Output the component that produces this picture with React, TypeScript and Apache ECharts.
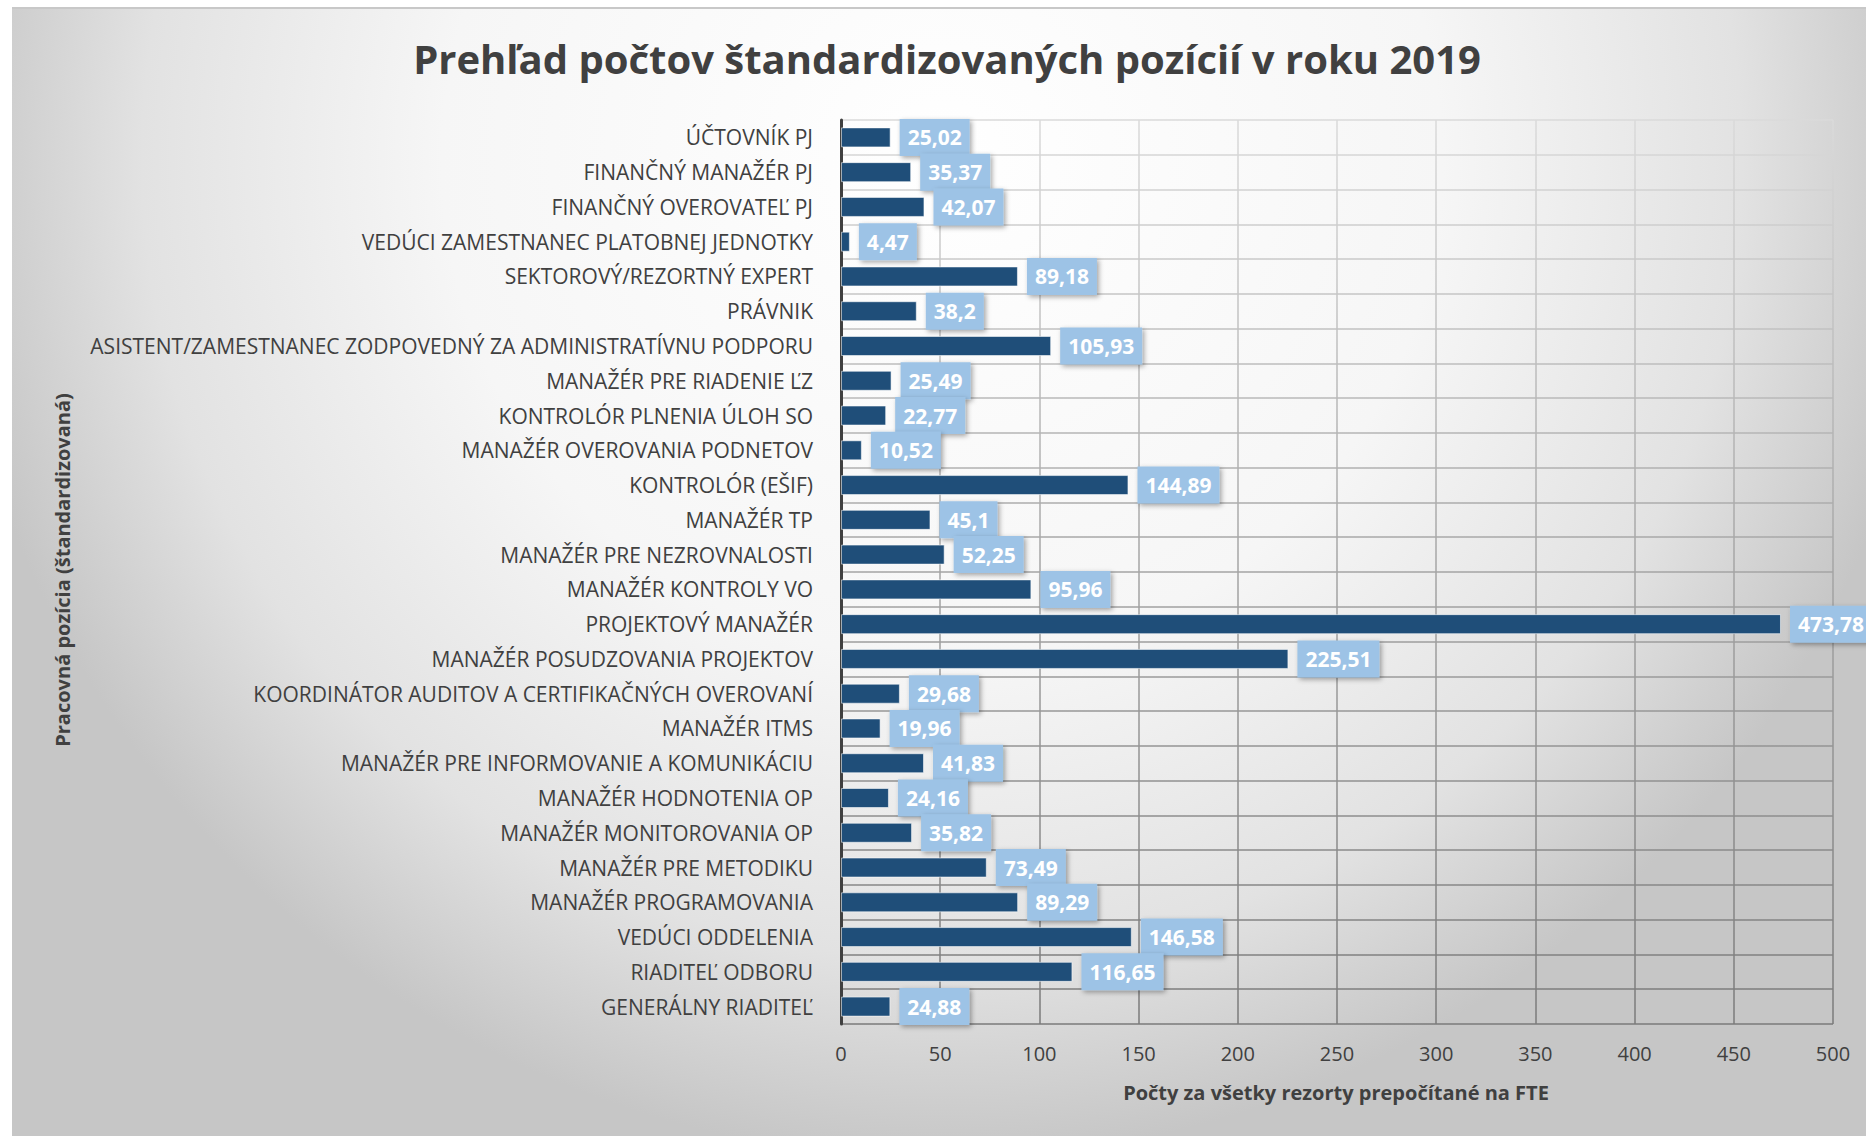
import React, { useEffect, useRef } from "react";
import * as echarts from "echarts";

const categories = [
  "ÚČTOVNÍK PJ",
  "FINANČNÝ MANAŽÉR PJ",
  "FINANČNÝ OVEROVATEĽ PJ",
  "VEDÚCI ZAMESTNANEC PLATOBNEJ JEDNOTKY",
  "SEKTOROVÝ/REZORTNÝ EXPERT",
  "PRÁVNIK",
  "ASISTENT/ZAMESTNANEC ZODPOVEDNÝ ZA ADMINISTRATÍVNU PODPORU",
  "MANAŽÉR PRE RIADENIE ĽZ",
  "KONTROLÓR PLNENIA ÚLOH SO",
  "MANAŽÉR OVEROVANIA PODNETOV",
  "KONTROLÓR (EŠIF)",
  "MANAŽÉR TP",
  "MANAŽÉR PRE NEZROVNALOSTI",
  "MANAŽÉR KONTROLY VO",
  "PROJEKTOVÝ MANAŽÉR",
  "MANAŽÉR POSUDZOVANIA PROJEKTOV",
  "KOORDINÁTOR AUDITOV A CERTIFIKAČNÝCH OVEROVANÍ",
  "MANAŽÉR ITMS",
  "MANAŽÉR PRE INFORMOVANIE A KOMUNIKÁCIU",
  "MANAŽÉR HODNOTENIA OP",
  "MANAŽÉR MONITOROVANIA OP",
  "MANAŽÉR PRE METODIKU",
  "MANAŽÉR PROGRAMOVANIA",
  "VEDÚCI ODDELENIA",
  "RIADITEĽ ODBORU",
  "GENERÁLNY RIADITEĽ",
];

const values = [
  25.02, 35.37, 42.07, 4.47, 89.18, 38.2, 105.93, 25.49, 22.77, 10.52, 144.89,
  45.1, 52.25, 95.96, 473.78, 225.51, 29.68, 19.96, 41.83, 24.16, 35.82, 73.49,
  89.29, 146.58, 116.65, 24.88,
];

const xMin = 0;
const xMax = 500;
const xInterval = 50;

const titleText = "Prehľad počtov štandardizovaných pozícií v roku 2019";
const yAxisName = "Pracovná pozícia (štandardizovaná)";
const xAxisName = "Počty za všetky rezorty prepočítané na FTE";

const FONT = "'Open Sans', 'DejaVu Sans', sans-serif";

export default function App() {
  const ref = useRef<HTMLDivElement>(null);

  useEffect(() => {
    if (!ref.current) return;
    const chart = echarts.init(ref.current, null, { renderer: "svg" });
    const gridGrad = new echarts.graphic.LinearGradient(
      0,
      111,
      0,
      1015,
      [
        { offset: 0, color: "#dadada" },
        { offset: 0.5, color: "#a4a4a4" },
        { offset: 1, color: "#7a7a7a" },
      ],
      true
    );
    chart.setOption({
      animation: false,
      backgroundColor: "transparent",
      grid: { left: 829, right: 33, top: 111, bottom: 112, containLabel: false },
      graphic: [
        {
          type: "text",
          x: 935,
          y: 49,
          style: {
            text: titleText,
            font: `bold 40px ${FONT}`,
            fill: "#404040",
            textAlign: "center",
            textVerticalAlign: "middle",
          },
        },
        {
          type: "text",
          x: 50,
          y: 561,
          rotation: Math.PI / 2,
          style: {
            text: yAxisName,
            font: `bold 20px ${FONT}`,
            fill: "#404040",
            textAlign: "center",
            textVerticalAlign: "middle",
          },
        },
        {
          type: "text",
          x: 1324,
          y: 1083,
          style: {
            text: xAxisName,
            font: `bold 20px ${FONT}`,
            fill: "#404040",
            textAlign: "center",
            textVerticalAlign: "middle",
          },
        },
      ],
      xAxis: {
        type: "value",
        min: xMin,
        max: xMax,
        interval: xInterval,
        axisLine: { show: false },
        axisTick: { show: false },
        axisLabel: {
          color: "#404040",
          fontSize: 20,
          fontFamily: FONT,
          margin: 19,
        },
        splitLine: { show: true, lineStyle: { color: gridGrad, width: 1.5 } },
      },
      yAxis: {
        type: "category",
        data: categories,
        inverse: true,
        axisLine: { show: true, lineStyle: { color: "#404040", width: 3 } },
        axisTick: { show: false },
        axisLabel: {
          interval: 0,
          color: "#404040",
          fontSize: 21,
          fontFamily: FONT,
          margin: 28,
        },
        splitLine: { show: true, lineStyle: { color: gridGrad, width: 1.5 } },
      },
      series: [
        {
          type: "bar",
          data: values,
          barWidth: 20,
          itemStyle: {
            color: "#1F4E79",
            borderColor: "rgba(255,255,255,0.55)",
            borderWidth: 1,
          },
          label: {
            show: true,
            position: "right",
            distance: 9,
            formatter: (p: any) => String(p.value).replace(".", ","),
            color: "#ffffff",
            fontFamily: FONT,
            fontWeight: "bold",
            fontSize: 21,
            lineHeight: 21,
            backgroundColor: "#9DC3E6",
            padding: [8, 8],
            shadowColor: "rgba(0,0,0,0.35)",
            shadowBlur: 5,
            shadowOffsetX: 2,
            shadowOffsetY: 2,
          },
        },
      ],
    });
    return () => chart.dispose();
  }, []);

  return (
    <div
      style={{
        position: "absolute",
        left: 0,
        top: 0,
        width: 1866,
        height: 1136,
        background: "#ffffff",
        overflow: "hidden",
      }}
    >
      <div
        style={{
          position: "absolute",
          left: 12,
          top: 7,
          width: 1854,
          height: 2,
          background: "#c8c8c8",
        }}
      />
      <div
        ref={ref}
        style={{
          position: "absolute",
          left: 12,
          top: 9,
          width: 1854,
          height: 1127,
          background:
            "radial-gradient(ellipse 1000px 1000px at 930px 150px, #ffffff 0%, #f6f6f6 50%, #e2e2e2 80%, #c6c6c6 100%)",
        }}
      />
    </div>
  );
}
